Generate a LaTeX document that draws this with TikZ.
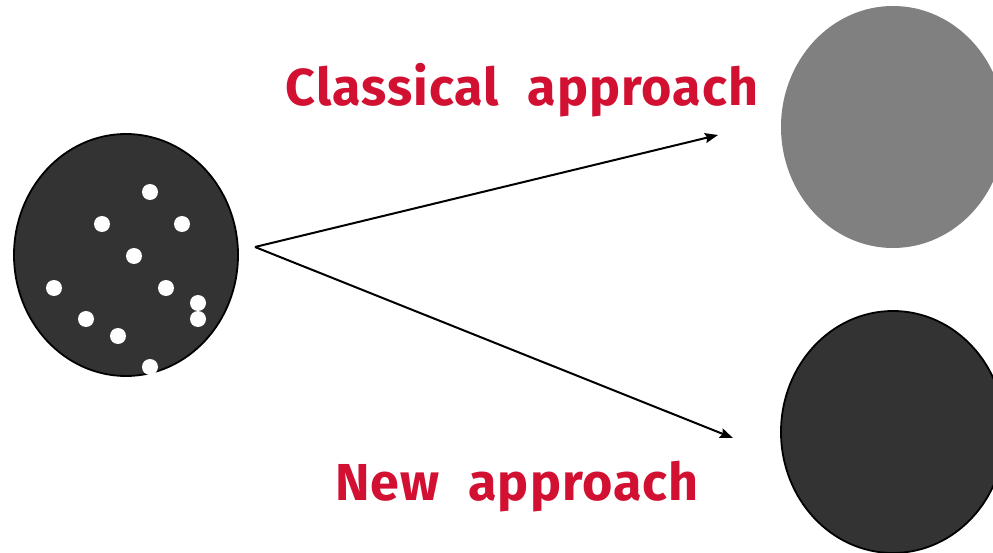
\documentclass[tikz,border=0pt]{standalone}
\usepackage{fontspec}
\setmainfont{Fira Sans}
\usetikzlibrary{shapes.geometric,arrows.meta}
\definecolor{labelred}{RGB}{210,16,50}
\definecolor{darkfill}{RGB}{51,51,51}
\definecolor{grayfill}{RGB}{128,128,128}
\tikzset{
  blob/.style={ellipse, inner sep=0pt, minimum width=224pt, minimum height=242pt},
  dot/.style={circle, fill=white, inner sep=0pt, minimum size=16pt},
  conn/.style={line width=2pt, -{Stealth[length=13pt,width=10pt,inset=2pt]}},
  lbl/.style={text=labelred, font=\fontsize{52}{60}\selectfont\bfseries\addfontfeatures{LetterSpace=2}, anchor=base, inner sep=0pt}
}
\begin{document}
\begin{tikzpicture}[x=1pt,y=-1pt]
\useasboundingbox (0,0) rectangle (993,553);
\clip (0,0) rectangle (993,553);
\fill[white] (0,0) rectangle (993,553);
\node[blob, draw=black, line width=1.8pt, fill=darkfill] (src) at (126,255) {};
\foreach \i/\x/\y in {1/150/192,2/102/224,3/182/224,4/134/256,5/54/288,6/166/288,7/198/303,8/198/319,9/86/319,10/118/336,11/150/367}
  \node[dot] (d\i) at (\x,\y) {};
\node[blob, fill=grayfill] (classic) at (893,127) {};
\node[blob, draw=black, line width=1.8pt, fill=darkfill] (new) at (893,432) {};
\coordinate (start) at (255,247);
\coordinate (endA) at (718,135);
\coordinate (endB) at (733,438);
\draw[conn] (start) -- (endA);
\draw[conn] (start) -- (endB);
\node[lbl] (tA) at (522,106) {Classical\hspace{0.3em} approach};
\node[lbl] (tB) at (517,500) {New\hspace{0.3em} approach};
\end{tikzpicture}
\end{document}
